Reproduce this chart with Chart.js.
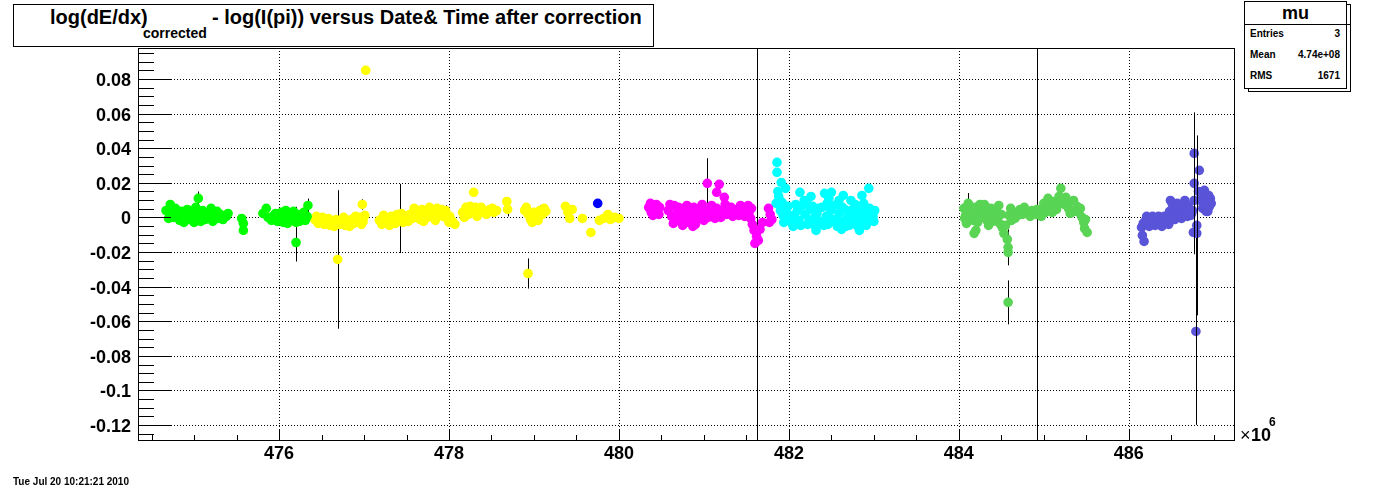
<!DOCTYPE html>
<html>
<head>
<meta charset="utf-8">
<script src="https://cdn.jsdelivr.net/npm/chart.js@4.4.0/dist/chart.umd.min.js"></script>
<style>
  body { margin: 0; background: #fff; font-family: 'Liberation Sans', Arial, sans-serif; }
  #wrap { position: relative; width: 1373px; height: 491px; overflow: hidden; }
  canvas { position: absolute; left: 0; top: 0; }
  .t { position: absolute; white-space: nowrap; color: #000; }
  .box { position: absolute; border: 1px solid #000; background: #fff; box-sizing: border-box; }
</style>
</head>
<body>
<div id="wrap">
  <canvas id="chart" width="1373" height="491"></canvas>

  <div class="box" style="left:13px;top:4px;width:641px;height:43px;"></div>
  <span class="t" style="left:50px;top:7px;font-size:20px;line-height:20px;font-weight:bold;">log(dE/dx)</span>
  <span class="t" style="left:143px;top:26px;font-size:14px;line-height:14px;font-weight:bold;">corrected</span>
  <span class="t" style="left:212px;top:7px;font-size:20px;line-height:20px;font-weight:bold;">- log(I(pi)) versus Date&amp; Time after correction</span>

  <div class="box" style="left:1248px;top:4px;width:103px;height:88px;"></div>
  <div class="box" style="left:1244px;top:1px;width:103px;height:88px;"></div>
  <div style="position:absolute;left:1244px;top:24px;width:107px;height:1px;background:#000;"></div>
  <span class="t" style="left:1244px;width:103px;text-align:center;top:4px;font-size:18px;line-height:18px;font-weight:bold;">mu</span>
  <span class="t" style="left:1250px;top:29px;font-size:10px;line-height:10px;font-weight:bold;">Entries</span>
  <span class="t" style="left:1250px;top:50px;font-size:10px;line-height:10px;font-weight:bold;">Mean</span>
  <span class="t" style="left:1250px;top:71px;font-size:10px;line-height:10px;font-weight:bold;">RMS</span>
  <span class="t" style="left:1280px;width:60px;text-align:right;top:29px;font-size:10px;line-height:10px;font-weight:bold;">3</span>
  <span class="t" style="left:1280px;width:60px;text-align:right;top:50px;font-size:10px;line-height:10px;font-weight:bold;">4.74e+08</span>
  <span class="t" style="left:1280px;width:60px;text-align:right;top:71px;font-size:10px;line-height:10px;font-weight:bold;">1671</span>

  <span class="t" style="left:1240px;top:426px;font-size:18px;line-height:18px;">×</span>
  <span class="t" style="left:1251px;top:426px;font-size:18px;line-height:18px;font-weight:bold;">10</span>
  <span class="t" style="left:1269px;top:416px;font-size:12px;line-height:12px;font-weight:bold;">6</span>

  <span class="t" style="left:13px;top:477px;font-size:10px;line-height:10px;font-weight:bold;">Tue Jul 20 10:21:21 2010</span>
</div>

<script>
// axis ranges (x in units of 10^6)
const xMin = 474.34, xMax = 487.25;
const yMin = -0.1292, yMax = 0.0979;

// [time, value, error]
const greenPts = [
  [474.67,0.0040,0],[474.70,-0.0006,0],[474.72,0.0075,0],[474.74,0.0023,0],[474.76,0.0000,0],[474.78,0.0052,0],
  [474.81,0.0000,0],[474.83,-0.0017,0],[474.85,0.0035,0],[474.88,0.0006,0],[474.88,-0.0029,0],[474.90,0.0012,0],
  [474.92,0.0046,0],[474.95,-0.0012,0],[474.99,0.0023,0],[475.00,-0.0029,0],[475.02,0.0058,0],
  [475.05,0.0110,0.004],[475.06,0.0006,0],[475.08,-0.0023,0],[475.10,0.0040,0],[475.13,-0.0012,0],[475.15,0.0006,0],
  [475.17,0.0023,0],[475.20,0.0052,0],[475.22,-0.0023,0],[475.24,0.0006,0],[475.27,0.0035,0],[475.29,-0.0006,0],
  [475.31,0.0017,0],[475.34,-0.0012,0],[475.38,0.0006,0],
  [475.40,0.0023,0],[475.56,-0.0006,0],[475.58,-0.0035,0],[475.58,-0.0075,0],[475.81,0.0023,0],[475.85,0.0052,0],
  [475.87,0.0000,0],[475.91,-0.0017,0],[475.94,0.0012,0],[475.96,0.0023,0],[475.98,-0.0023,0],[476.01,-0.0006,0],
  [476.03,0.0029,0],[476.05,-0.0029,0],[476.08,0.0000,0],[476.08,0.0040,0],[476.10,-0.0035,0],[476.12,-0.0017,0],
  [476.15,0.0012,0],[476.17,0.0035,0],[476.19,-0.0012,0],[476.20,-0.0145,0.011],[476.20,-0.0029,0.009],
  [476.22,0.0017,0],[476.24,-0.0023,0],[476.26,0.0000,0],[476.29,0.0029,0],[476.31,-0.0017,0],[476.33,0.0006,0],
  [476.34,0.0069,0.004]
];

const yellowPts = [
  [476.42,-0.0012,0],[476.44,0.0006,0],[476.46,-0.0035,0],[476.49,-0.0017,0],[476.51,0.0000,0],[476.53,-0.0040,0],
  [476.56,-0.0023,0],[476.58,-0.0006,0],[476.60,-0.0046,0],[476.63,-0.0029,0],[476.65,-0.0052,0],[476.67,-0.0012,0],
  [476.69,-0.0243,0.040],[476.71,-0.0040,0],[476.74,-0.0023,0],[476.76,0.0000,0],[476.78,-0.0046,0],
  [476.81,-0.0029,0],[476.83,-0.0052,0],[476.85,-0.0012,0],[476.88,-0.0035,0],[476.90,0.0006,0],[476.92,-0.0017,0],
  [476.95,0.0000,0],[476.97,-0.0040,0],[476.98,0.0075,0.003],[476.99,-0.0023,0],[477.01,0.0012,0],[477.02,0.0850,0],
  [477.18,-0.0017,0],[477.21,-0.0040,0],[477.23,0.0012,0],[477.25,-0.0006,0],[477.28,-0.0029,0],[477.30,-0.0046,0],
  [477.32,0.0006,0],[477.35,-0.0017,0],[477.37,-0.0035,0],[477.39,0.0017,0],[477.42,-0.0006,0.020],
  [477.44,0.0023,0],[477.46,-0.0029,0],[477.49,0.0006,0],[477.52,-0.0023,0],
  [477.54,0.0017,0],[477.57,-0.0006,0],[477.59,0.0052,0],[477.61,0.0035,0],[477.65,0.0012,0],[477.66,-0.0012,0],
  [477.68,0.0046,0],[477.70,-0.0023,0],[477.72,0.0023,0],[477.75,0.0000,0],[477.77,0.0058,0],[477.79,0.0040,0],
  [477.82,0.0017,0],[477.84,-0.0017,0],[477.86,0.0052,0],[477.89,0.0029,0],[477.91,0.0046,0],[477.93,0.0006,0],
  [477.96,0.0040,0.003],[477.98,-0.0006,0],[478.00,-0.0029,0],
  [478.01,0.0006,0],[478.04,-0.0023,0],[478.07,-0.0040,0],
  [478.16,0.0029,0],[478.18,0.0000,0],[478.20,0.0058,0],[478.23,0.0017,0],[478.25,0.0064,0],[478.27,0.0046,0],
  [478.29,0.0145,0],[478.31,0.0058,0],[478.33,0.0006,0],[478.35,0.0023,0],[478.38,0.0058,0],[478.40,0.0040,0],
  [478.44,0.0017,0],[478.46,0.0035,0],[478.48,0.0046,0],[478.51,0.0052,0],[478.53,0.0029,0],[478.56,0.0040,0],
  [478.68,0.0092,0.002],[478.69,0.0046,0.004],
  [478.89,0.0040,0],[478.91,0.0058,0],[478.93,0.0017,0],[478.93,-0.0324,0.0087],[478.96,-0.0012,0],
  [478.98,-0.0029,0],[479.00,0.0029,0],[479.03,0.0006,0],[479.05,-0.0017,0],[479.07,0.0040,0.003],[479.10,0.0017,0],
  [479.12,0.0052,0],[479.14,0.0035,0],
  [479.37,0.0064,0],[479.40,0.0029,0],[479.42,-0.0006,0],[479.45,0.0046,0],
  [479.57,-0.0006,0],[479.67,-0.0087,0.002],[479.77,-0.0017,0],[479.82,-0.0006,0],[479.87,0.0017,0],[479.90,-0.0012,0],
  [479.95,0.0000,0],[480.00,-0.0006,0]
];

const bluePts = [[479.75,0.0081,0]];

const magentaPts = [
  [480.35,0.0058,0],[480.37,0.0081,0],[480.38,0.0029,0],[480.40,0.0012,0],[480.42,0.0052,0],[480.44,0.0075,0],
  [480.45,0.0035,0],[480.47,0.0017,0],[480.48,0.0058,0],
  [480.58,0.0040,0],[480.60,0.0075,0],[480.62,0.0006,0],[480.64,-0.0035,0],[480.65,0.0069,0],[480.66,-0.0017,0],
  [480.69,0.0029,0],[480.70,0.0058,0],[480.72,-0.0012,0],[480.74,-0.0029,0],[480.75,-0.0046,0],[480.76,0.0052,0],
  [480.78,0.0017,0],[480.80,0.0069,0],[480.80,-0.0012,0],[480.82,-0.0029,0],[480.84,0.0040,0],[480.86,0.0000,0],
  [480.87,-0.0052,0],[480.88,0.0058,0],[480.90,-0.0040,0],[480.92,0.0029,0],[480.94,-0.0006,0],[480.96,0.0058,0],
  [480.98,0.0012,0],[480.98,0.0075,0],[481.00,-0.0017,0],[481.02,0.0040,0],[481.04,0.0197,0.0145],[481.05,0.0000,0],
  [481.07,0.0023,0],[481.09,0.0069,0],[481.11,0.0029,0],[481.13,-0.0006,0],[481.15,0.0052,0],[481.15,0.0145,0],
  [481.18,0.0017,0],[481.18,0.0191,0],[481.20,0.0000,0],[481.22,0.0040,0],[481.24,0.0116,0],[481.25,0.0075,0],
  [481.27,0.0017,0],[481.29,0.0035,0],[481.32,0.0058,0],[481.34,0.0006,0],[481.36,0.0023,0],[481.39,0.0046,0],
  [481.41,0.0012,0],[481.43,0.0069,0],[481.46,0.0035,0],[481.48,0.0006,0],[481.50,0.0052,0],[481.52,0.0069,0],
  [481.53,0.0023,0],[481.56,0.0052,0],
  [481.55,-0.0006,0],[481.57,-0.0040,0],[481.59,-0.0075,0],[481.62,-0.0110,0.5],[481.64,-0.0133,0],[481.60,-0.0150,0],
  [481.66,-0.0069,0],[481.69,-0.0029,0],
  [481.76,0.0052,0],[481.78,0.0017,0],[481.80,-0.0012,0],[481.77,-0.0029,0]
];

const cyanPts = [
  [481.86,0.0318,0],[481.86,0.0260,0],[481.91,0.0202,0],[481.96,0.0168,0],[481.87,0.0150,0],[481.88,0.0121,0],
  [481.89,0.0098,0],[481.85,0.0081,0],[481.92,0.0087,0],[481.99,0.0064,0],[481.95,0.0052,0],[481.90,0.0040,0],
  [481.98,0.0023,0],[481.93,0.0012,0],[482.00,-0.0006,0],[481.97,-0.0017,0],[481.94,-0.0029,0],
  [482.03,-0.0029,0],[482.05,-0.0052,0],[482.06,0.0012,0],[482.08,0.0075,0],[482.10,0.0040,0],[482.12,-0.0017,0],
  [482.13,0.0145,0],[482.14,-0.0046,0],[482.16,0.0069,0],[482.18,0.0098,0],[482.19,0.0017,0],[482.21,0.0081,0],
  [482.22,-0.0040,0],[482.24,-0.0017,0],[482.25,0.0046,0],[482.26,0.0121,0],[482.28,0.0064,0],[482.29,-0.0006,0],
  [482.31,-0.0052,0],[482.32,-0.0075,0],[482.33,0.0023,0],[482.35,0.0052,0],[482.37,-0.0023,0],[482.39,0.0058,0],
  [482.41,-0.0046,0],[482.42,0.0139,0],[482.44,0.0006,0],[482.45,0.0081,0],[482.46,-0.0040,0],[482.47,0.0110,0],
  [482.49,0.0040,0],[482.50,0.0145,0],[482.52,-0.0012,0],[482.54,0.0069,0],[482.55,-0.0029,0],[482.57,-0.0052,0],
  [482.59,0.0023,0],[482.59,0.0098,0],[482.61,-0.0023,0],[482.62,-0.0069,0],[482.63,0.0058,0],[482.64,0.0127,0],
  [482.66,0.0046,0],[482.67,-0.0052,0],[482.69,0.0000,0],[482.71,-0.0046,0],[482.73,0.0029,0],[482.73,0.0098,0],
  [482.75,0.0046,0],[482.76,-0.0017,0],[482.78,0.0075,0],[482.80,0.0012,0],[482.81,-0.0052,0],[482.83,-0.0035,0],
  [482.83,-0.0075,0],[482.85,0.0040,0],[482.86,0.0127,0],[482.88,0.0081,0],[482.89,-0.0006,0],[482.91,-0.0046,0],
  [482.93,0.0029,0],[482.94,0.0168,0],[482.95,0.0052,0],[482.97,-0.0017,0],[482.99,0.0006,0],[483.00,-0.0023,0],
  [483.01,0.0040,0]
];

const green2Pts = [
  [484.06,0.0052,0],[484.07,-0.0006,0],[484.08,0.0012,0],[484.09,-0.0035,0],[484.11,0.0081,0.006],[484.13,0.0064,0],
  [484.14,0.0035,0],[484.16,0.0023,0],[484.17,-0.0017,0],[484.18,-0.0092,0],[484.19,0.0058,0],[484.20,-0.0075,0],
  [484.22,-0.0029,0],[484.23,0.0017,0],[484.25,0.0075,0],[484.27,0.0058,0],[484.28,0.0029,0],[484.30,0.0075,0],
  [484.31,-0.0006,0],[484.33,-0.0017,0],[484.34,0.0052,0],[484.35,-0.0046,0],[484.36,0.0012,0],[484.38,0.0052,0],
  [484.40,-0.0023,0],[484.42,0.0035,0],[484.44,0.0046,0],[484.45,0.0000,0],[484.47,0.0069,0],[484.48,-0.0035,0],
  [484.50,0.0017,0],[484.51,-0.0058,0],[484.53,-0.0092,0],[484.55,-0.0046,0],[484.57,-0.0127,0],
  [484.58,-0.0173,0.0104],[484.58,-0.0202,0],[484.58,-0.0491,0.0127],[484.59,0.0012,0],[484.61,0.0052,0],
  [484.62,-0.0017,0],[484.65,0.0029,0],[484.66,-0.0006,0],[484.68,0.0006,0],[484.70,0.0017,0],[484.72,0.0046,0],
  [484.75,0.0017,0],[484.77,0.0058,0],[484.79,0.0035,0],[484.82,0.0023,0],[484.84,0.0006,0],[484.86,0.0040,0],
  [484.89,0.0029,0],[484.91,0.0017,0],[484.92,0.0046,0.5],[484.95,0.0029,0],[484.97,0.0006,0],[484.99,0.0052,0],
  [485.00,0.0081,0],[485.02,0.0029,0],[485.04,0.0046,0],[485.05,0.0110,0],[485.08,0.0064,0],[485.10,0.0029,0],
  [485.12,0.0092,0],[485.14,0.0075,0],[485.15,0.0046,0],[485.17,0.0081,0],[485.18,0.0121,0],[485.20,0.0168,0],
  [485.22,0.0098,0],[485.24,0.0075,0],[485.26,0.0116,0],[485.28,0.0081,0],[485.29,0.0052,0],[485.31,0.0023,0],
  [485.33,0.0029,0],[485.35,0.0098,0],[485.37,0.0040,0],[485.39,0.0064,0],[485.41,0.0029,0],[485.43,0.0052,0],
  [485.45,0.0000,0],[485.47,-0.0029,0],[485.48,-0.0064,0],[485.49,-0.0012,0],[485.51,-0.0087,0]
];

const violetPts = [
  [486.18,-0.0139,0],[486.16,-0.0104,0],[486.15,-0.0058,0],[486.17,-0.0035,0],[486.19,-0.0023,0],[486.21,0.0006,0],
  [486.22,-0.0040,0],[486.24,-0.0052,0],[486.26,-0.0012,0],[486.28,0.0006,0],[486.29,-0.0029,0],[486.31,-0.0046,0],
  [486.33,-0.0006,0],[486.35,0.0006,0],[486.36,-0.0023,0],[486.38,-0.0029,0],[486.39,-0.0052,0],[486.40,0.0000,0],
  [486.42,0.0006,0],[486.43,-0.0017,0],[486.45,-0.0029,0],[486.47,-0.0040,0],[486.48,0.0035,0],[486.49,0.0000,0],
  [486.49,0.0098,0],[486.51,0.0081,0],[486.52,0.0058,0],[486.53,0.0012,0],[486.54,-0.0012,0],[486.55,0.0035,0],
  [486.57,0.0081,0],[486.59,0.0069,0],[486.60,0.0035,0],[486.61,0.0023,0],[486.62,-0.0006,0],[486.63,0.0069,0],
  [486.64,0.0017,0],[486.65,0.0052,0],[486.66,0.0098,0],[486.67,0.0075,0],[486.68,0.0029,0],[486.69,0.0006,0],
  [486.70,0.0064,0],[486.72,0.0046,0],[486.73,0.0012,0],[486.74,0.0023,0],[486.75,0.0040,0],
  [486.82,0.0150,0],[486.84,0.0098,0],[486.85,0.0139,0],[486.86,0.0121,0],[486.87,0.0052,0],[486.88,0.0069,0],
  [486.89,0.0156,0],[486.90,0.0110,0],[486.91,0.0035,0],[486.92,0.0092,0],[486.93,0.0035,0],[486.94,0.0127,0],
  [486.95,0.0064,0],[486.96,0.0110,0],[486.97,0.0081,0],
  [486.77,0.0370,0],[486.83,0.0272,0],[486.77,0.0197,0.041],[486.76,-0.0087,0],[486.80,-0.0092,0],
  [486.80,-0.0046,0.052],[486.79,-0.0659,0.054],[486.77,0.0098,0]
];

function makeSet(label, pts, color, front) {
    return {
        label: label,
        data: pts.map(p => ({ x: p[0], y: p[1] })),
        errs: pts.map(p => p[2] || 0),
        errFront: !!front,
        backgroundColor: color,
        borderColor: color,
        borderWidth: 0,
        pointRadius: 4.8,
        pointHoverRadius: 4.8
    };
}

function drawErrors(chart, ds) {
    const { ctx, chartArea: a, scales: { x, y } } = chart;
    ctx.save();
    ctx.beginPath();
    ctx.rect(a.left, a.top, a.width, a.height);
    ctx.clip();
    ctx.strokeStyle = '#000';
    ctx.lineWidth = 1;
    ds.errs.forEach((e, i) => {
        if (!e) return;
        const p = ds.data[i];
        const px = Math.round(x.getPixelForValue(p.x)) + 0.5;
        ctx.beginPath();
        ctx.moveTo(px, y.getPixelForValue(p.y + e));
        ctx.lineTo(px, y.getPixelForValue(p.y - e));
        ctx.stroke();
    });
    ctx.restore();
}

const rootFrame = {
    id: 'rootFrame',
    beforeDatasetsDraw(chart) {
        const { ctx, chartArea: a, scales: { x, y } } = chart;
        ctx.save();
        ctx.strokeStyle = '#000';
        ctx.lineWidth = 1;
        ctx.setLineDash([1, 2]);
        // dotted grid at the labelled ticks
        for (let k = Math.ceil(yMin / 0.02); k <= Math.floor(yMax / 0.02); k++) {
            const py = Math.round(y.getPixelForValue(k * 0.02)) + 0.5;
            ctx.beginPath(); ctx.moveTo(a.left, py); ctx.lineTo(a.right, py); ctx.stroke();
        }
        for (let k = Math.ceil(xMin / 2); k <= Math.floor(xMax / 2); k++) {
            const px = Math.round(x.getPixelForValue(k * 2)) + 0.5;
            ctx.beginPath(); ctx.moveTo(px, a.top); ctx.lineTo(px, a.bottom); ctx.stroke();
        }
        ctx.restore();
        chart.data.datasets.forEach(ds => { if (!ds.errFront) drawErrors(chart, ds); });
    },
    afterDatasetsDraw(chart) {
        chart.data.datasets.forEach(ds => { if (ds.errFront) drawErrors(chart, ds); });
        const { ctx, chartArea: a, scales: { x, y } } = chart;
        ctx.save();
        ctx.strokeStyle = '#000';
        ctx.lineWidth = 1;
        // tick marks inside the frame
        for (let k = Math.ceil(yMin / 0.005); k <= Math.floor(yMax / 0.005); k++) {
            const py = Math.round(y.getPixelForValue(k * 0.005)) + 0.5;
            const len = (k % 4 === 0) ? 33 : 16;
            ctx.beginPath(); ctx.moveTo(a.left, py); ctx.lineTo(a.left + len, py); ctx.stroke();
        }
        for (let k = Math.ceil(xMin / 0.5); k <= Math.floor(xMax / 0.5); k++) {
            const px = Math.round(x.getPixelForValue(k * 0.5)) + 0.5;
            const len = (k % 4 === 0) ? 11 : 6;
            ctx.beginPath(); ctx.moveTo(px, a.bottom); ctx.lineTo(px, a.bottom - len); ctx.stroke();
        }
        ctx.strokeRect(Math.round(a.left) + 0.5, Math.round(a.top) + 0.5,
                       Math.round(a.width) - 1, Math.round(a.height) - 1);
        ctx.restore();
    }
};

const labelFont = { family: "'Liberation Sans', Arial, sans-serif", size: 18, weight: 'bold' };

new Chart(document.getElementById('chart'), {
    type: 'scatter',
    data: {
        datasets: [
            makeSet('run A', greenPts, '#00ff00'),
            makeSet('run B', yellowPts, '#ffff00'),
            makeSet('run C', bluePts, '#0000ff'),
            makeSet('run D', magentaPts, '#ff00ff'),
            makeSet('run E', cyanPts, '#00ffff'),
            makeSet('run F', green2Pts, '#59d454'),
            makeSet('run G', violetPts, '#5954d8', true)
        ]
    },
    options: {
        responsive: false,
        devicePixelRatio: 1,
        animation: false,
        events: [],
        layout: { padding: { left: 0, right: 138, top: 48, bottom: 20 } },
        plugins: { legend: { display: false }, tooltip: { enabled: false }, title: { display: false } },
        scales: {
            x: {
                type: 'linear',
                min: xMin,
                max: xMax,
                afterFit(s) { s.height = 30; },
                grid: { display: false, drawTicks: false },
                border: { display: false },
                ticks: {
                    stepSize: 2,
                    includeBounds: false,
                    autoSkip: false,
                    maxRotation: 0,
                    padding: 2,
                    color: '#000',
                    font: labelFont,
                    callback: v => {
                        const r = Math.round(v);
                        return (Math.abs(v - r) < 1e-6 && r % 2 === 0) ? String(r) : '';
                    }
                }
            },
            y: {
                type: 'linear',
                min: yMin,
                max: yMax,
                afterFit(s) { s.width = 138; },
                grid: { display: false, drawTicks: false },
                border: { display: false },
                ticks: {
                    stepSize: 0.02,
                    includeBounds: false,
                    autoSkip: false,
                    padding: 7,
                    labelOffset: 2,
                    color: '#000',
                    font: labelFont,
                    callback: v => {
                        const r = Math.round(v * 100) / 100;
                        if (Math.abs(v * 50 - Math.round(v * 50)) > 1e-6) return '';
                        return r === 0 ? '0' : String(r);
                    }
                }
            }
        }
    },
    plugins: [rootFrame]
});
</script>
</body>
</html>
